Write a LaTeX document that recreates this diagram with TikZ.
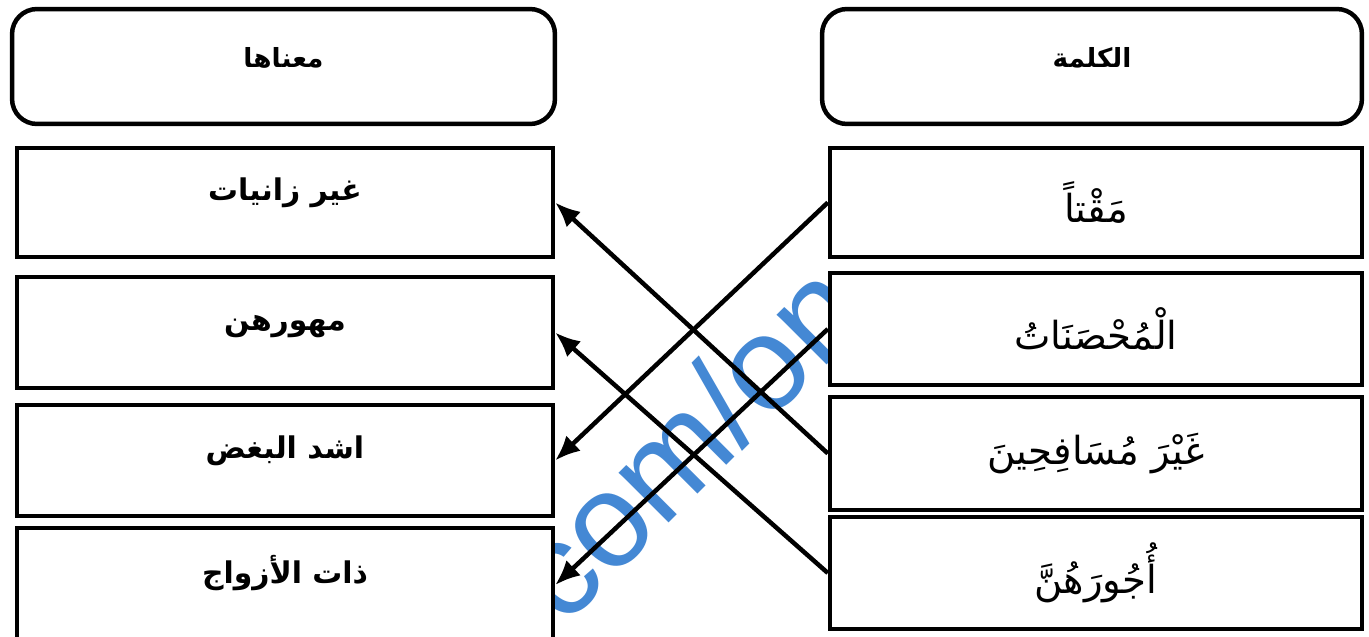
\documentclass[tikz,border=0pt]{standalone}
\usepackage{fontspec}
\setmainfont{Liberation Sans}
\newfontfamily\arabicfont[Script=Arabic]{DejaVu Sans}
\TeXXeTstate=1
\usetikzlibrary{arrows.meta}
\definecolor{wmblue}{RGB}{68,136,212}
\tikzset{
  box/.style={draw, line width=0.09cm, fill=white, inner sep=0pt},
  hdr/.style={box, rounded corners=0.5cm, minimum height=2.3cm,
              text height=0.4cm, text depth=0.35cm,
              font=\arabicfont\bfseries\fontsize{15}{18}\selectfont},
  meaning/.style={box, minimum width=10.72cm, text height=0.5cm, text depth=0.58cm,
                  font=\arabicfont\bfseries\fontsize{17}{20}\selectfont},
  word/.style={box, minimum width=10.64cm,
               font=\arabicfont\fontsize{22}{26}\selectfont},
  link/.style={line width=0.09cm, -{Latex[length=0.5cm, width=0.42cm]}},
  wmark/.style={text=wmblue, font=\fontsize{76}{80}\selectfont, rotate=45, anchor=base},
}
\begin{document}
\begin{tikzpicture}[x=0.02cm, y=-0.02cm]
  \useasboundingbox (0,0) rectangle (1369,636);
  % watermark, behind the boxes
  \node[wmark] (wm) at (718,474) {com/on};

  % headers
  \node[hdr, minimum width=10.86cm] (hmean) at (283.5,66.5) {\beginR معناها\endR};
  \node[hdr, minimum width=10.8cm] (hword) at (1092,66.5) {\beginR الكلمة\endR};

  % meanings (left)
  \node[meaning, minimum height=2.18cm] (m1) at (285,202.5) {\beginR غير زانيات\endR};
  \node[meaning, minimum height=2.22cm] (m2) at (285,332.5) {\beginR مهورهن\endR};
  \node[meaning, minimum height=2.22cm] (m3) at (285,460.5) {\beginR اشد البغض\endR};
  \node[meaning, minimum height=2.28cm] (m4) at (285,585) {\beginR ذات الأزواج\endR};

  % words (right)
  \node[word, minimum height=2.18cm] (w1) at (1096,202.5) {\beginR مَقْتاً\endR};
  \node[word, minimum height=2.24cm] (w2) at (1096,329) {\beginR الْمُحْصَنَاتُ\endR};
  \node[word, minimum height=2.26cm] (w3) at (1096,453.5) {\beginR غَيْرَ مُسَافِحِينَ\endR};
  \node[word, minimum height=2.24cm] (w4) at (1096,573) {\beginR أُجُورَهُنَّ\endR};

  \draw[link] (w1.west) -- (m3.east);
  \draw[link] (w2.west) -- (m4.east);
  \draw[link] (w3.west) -- (m1.east);
  \draw[link] (w4.west) -- (m2.east);
\end{tikzpicture}
\end{document}
